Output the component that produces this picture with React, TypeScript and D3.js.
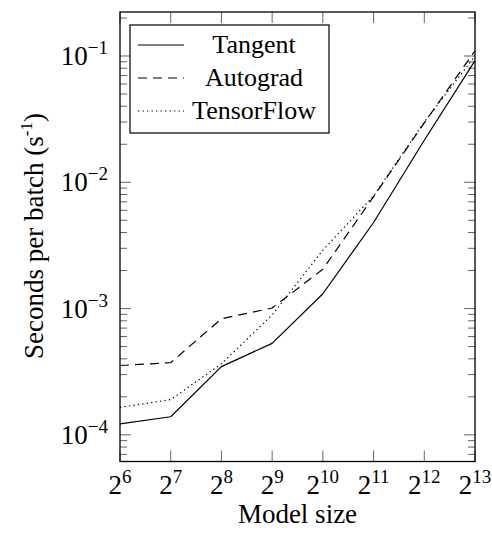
import React from "react";
import * as d3 from "d3";

const sizes = [64, 128, 256, 512, 1024, 2048, 4096, 8192];
const tangent = [1.22e-4, 1.39e-4, 3.47e-4, 5.3e-4, 1.31e-3, 4.8e-3, 2.15e-2, 9.2e-2];
const autograd = [3.54e-4, 3.73e-4, 8.3e-4, 1.01e-3, 2.05e-3, 7.7e-3, 2.95e-2, 1.1e-1];
const tensorflow = [1.65e-4, 1.9e-4, 3.65e-4, 8.9e-4, 2.9e-3, 7.8e-3, 3.0e-2, 1.0e-1];
const xExponents = [6, 7, 8, 9, 10, 11, 12, 13];
const yExponents = [-4, -3, -2, -1];
const seriesNames = ["Tangent", "Autograd", "TensorFlow"];

const W = 492;
const H = 533;
const L = 120, R = 475, T = 12, B = 461.5;
const FONT = "'Liberation Serif', 'Times New Roman', serif";

export default function App() {
  const x = d3.scaleLog().base(2).domain([64, 8192]).range([L, R]);
  const y = d3.scaleLog().base(10).domain([6.15e-5, 0.223]).range([B, T]);

  const line = d3
    .line<[number, number]>()
    .x((d) => x(d[0]))
    .y((d) => y(d[1]));

  const series = [tangent, autograd, tensorflow];
  const dashes = [undefined, "9,6", "1.3,3.2"];

  const majorY = yExponents.map((e) => Math.pow(10, e));
  const minorY: number[] = [];
  for (let e = -5; e <= -1; e++) {
    for (let k = 2; k <= 9; k++) {
      const v = k * Math.pow(10, e);
      if (v >= y.domain()[0] && v <= y.domain()[1]) minorY.push(v);
    }
  }

  const majLen = 11;
  const minLen = 7;
  const tickColor = "#666";

  const legendYs = [45, 78, 111];

  return (
    <svg
      width={W}
      height={H}
      style={{ position: "absolute", left: 0, top: 0, background: "white", fontFamily: FONT }}
    >
      <rect x={0} y={0} width={W} height={H} fill="white" />
      {/* ticks */}
      <g stroke={tickColor} strokeWidth={1}>
        {minorY.map((v, i) => (
          <g key={"mn" + i}>
            <line x1={L} x2={L + minLen} y1={y(v)} y2={y(v)} />
            <line x1={R} x2={R - minLen} y1={y(v)} y2={y(v)} />
          </g>
        ))}
        {majorY.map((v, i) => (
          <g key={"mj" + i}>
            <line x1={L} x2={L + majLen} y1={y(v)} y2={y(v)} />
            <line x1={R} x2={R - majLen} y1={y(v)} y2={y(v)} />
          </g>
        ))}
        {xExponents.map((e, i) => {
          const px = x(Math.pow(2, e));
          return (
            <g key={"xt" + i}>
              <line x1={px} x2={px} y1={B} y2={B - majLen} />
              <line x1={px} x2={px} y1={T} y2={T + majLen} />
            </g>
          );
        })}
      </g>
      {/* data lines */}
      {series.map((s, i) => (
        <path
          key={"s" + i}
          d={line(sizes.map((v, j) => [v, s[j]] as [number, number])) || ""}
          fill="none"
          stroke="black"
          strokeWidth={1.2}
          strokeDasharray={dashes[i]}
          strokeLinejoin="round"
        />
      ))}
      {/* axis box */}
      <rect x={L} y={T} width={R - L} height={B - T} fill="none" stroke="black" strokeWidth={1.3} />
      {/* y tick labels */}
      {majorY.map((v, i) => (
        <text key={"yl" + i} x={L - 12} y={y(v) + 9} textAnchor="end" fontSize={27} fill="black">
          <tspan>10</tspan>
          <tspan fontSize={19} dy={-11}>{"\u2212" + Math.abs(yExponents[i])}</tspan>
        </text>
      ))}
      {/* x tick labels */}
      {xExponents.map((e, i) => (
        <text key={"xl" + i} x={x(Math.pow(2, e))} y={494} textAnchor="middle" fontSize={27} fill="black">
          <tspan>2</tspan>
          <tspan fontSize={19} dy={-11}>{String(e)}</tspan>
        </text>
      ))}
      {/* axis labels */}
      <text x={(L + R) / 2} y={523} textAnchor="middle" fontSize={27} fill="black">
        Model size
      </text>
      <text transform={`translate(43, 236) rotate(-90)`} textAnchor="middle" fontSize={27} fill="black">
        <tspan>Seconds per batch (s</tspan>
        <tspan fontSize={17} dy={-11}>-1</tspan>
        <tspan dy={11}>)</tspan>
      </text>
      {/* legend */}
      <rect x={130} y={25} width={199} height={108} fill="white" stroke="black" strokeWidth={1.2} />
      {seriesNames.map((n, i) => (
        <g key={"lg" + i}>
          <line
            x1={138}
            x2={184}
            y1={legendYs[i]}
            y2={legendYs[i]}
            stroke="black"
            strokeWidth={1.2}
            strokeDasharray={dashes[i]}
          />
          <text x={254} y={legendYs[i] + 8} textAnchor="middle" fontSize={26} fill="black">
            {n}
          </text>
        </g>
      ))}
    </svg>
  );
}
